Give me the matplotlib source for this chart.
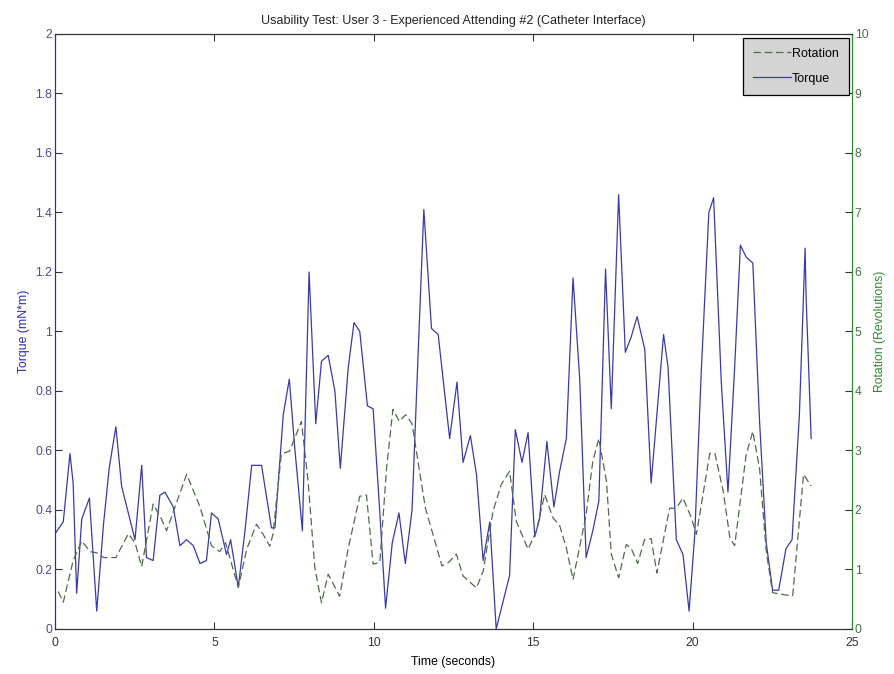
# Usability test chart: torque (left axis) and rotation (right axis) over time
from matplotlib import pyplot as plt
from matplotlib.ticker import FuncFormatter

plt.rcParams['font.family'] = ['Liberation Sans', 'DejaVu Sans']
plt.rcParams['font.size'] = 8.8

# torque trace (seconds, mN*m)
torque_t = [0.00, 0.26, 0.47, 0.57, 0.68, 0.84, 1.08, 1.31, 1.52, 1.70, 1.91,
            2.09, 2.30, 2.51, 2.72, 2.87, 3.08, 3.29, 3.45, 3.71, 3.92, 4.13,
            4.34, 4.55, 4.75, 4.91, 5.12, 5.38, 5.51, 5.75, 5.96, 6.17, 6.48,
            6.79, 6.90, 7.16, 7.35, 7.52, 7.76, 7.97, 8.18, 8.36, 8.57, 8.78,
            8.95, 9.20, 9.38, 9.56, 9.80, 9.98, 10.19, 10.37, 10.58, 10.79,
            10.99, 11.20, 11.40, 11.57, 11.81, 12.02, 12.38, 12.61, 12.80,
            13.03, 13.22, 13.43, 13.64, 13.84, 14.05, 14.26, 14.44, 14.65,
            14.84, 15.05, 15.20, 15.43, 15.65, 15.83, 16.04, 16.25, 16.46,
            16.66, 16.87, 17.06, 17.27, 17.45, 17.68, 17.89, 18.07, 18.26,
            18.50, 18.70, 19.09, 19.23, 19.49, 19.70, 19.89, 20.07, 20.27,
            20.51, 20.66, 20.90, 21.11, 21.32, 21.50, 21.68, 21.89, 22.10,
            22.31, 22.51, 22.70, 22.93, 23.12, 23.35, 23.53, 23.56, 23.72]
torque = [0.32, 0.36, 0.59, 0.49, 0.12, 0.37, 0.44, 0.06, 0.35, 0.54, 0.68,
          0.48, 0.39, 0.30, 0.55, 0.24, 0.23, 0.45, 0.46, 0.41, 0.28, 0.30,
          0.28, 0.22, 0.23, 0.39, 0.37, 0.25, 0.30, 0.14, 0.33, 0.55, 0.55,
          0.34, 0.34, 0.72, 0.84, 0.61, 0.33, 1.20, 0.69, 0.90, 0.92, 0.80,
          0.54, 0.88, 1.03, 1.00, 0.75, 0.74, 0.39, 0.07, 0.29, 0.39,
          0.22, 0.40, 0.95, 1.41, 1.01, 0.99, 0.64, 0.83, 0.56,
          0.65, 0.52, 0.23, 0.36, 0.00, 0.09, 0.18, 0.67, 0.56,
          0.66, 0.31, 0.37, 0.63, 0.41, 0.53, 0.64, 1.18, 0.84,
          0.24, 0.33, 0.43, 1.21, 0.74, 1.46, 0.93, 0.98, 1.05,
          0.94, 0.49, 0.99, 0.88, 0.30, 0.25, 0.06, 0.32, 0.86,
          1.40, 1.45, 0.83, 0.46, 0.88, 1.29, 1.25, 1.23, 0.70,
          0.29, 0.13, 0.13, 0.27, 0.30, 0.72, 1.28, 1.12, 0.64]

# rotation trace (seconds, revolutions)
rot_t = [0.10, 0.26, 0.57, 0.84, 1.10, 1.31, 1.52, 1.91, 2.30, 2.51, 2.72,
         3.08, 3.34, 3.50, 4.13, 4.55, 4.91, 5.17, 5.35, 5.75, 6.02, 6.32,
         6.53, 6.74, 6.84, 7.10, 7.36, 7.73, 7.94, 8.15, 8.36, 8.57, 8.93,
         9.20, 9.56, 9.77, 9.98, 10.19, 10.40, 10.60, 10.80, 11.00, 11.20,
         11.62, 12.14, 12.35, 12.59, 12.80, 13.22, 13.43, 13.74, 14.00,
         14.26, 14.47, 14.84, 15.10, 15.36, 15.62, 15.83, 16.04, 16.25,
         16.66, 16.87, 17.06, 17.30, 17.45, 17.68, 17.92, 18.07, 18.28,
         18.49, 18.70, 18.88, 19.28, 19.49, 19.70, 19.96, 20.12, 20.54,
         20.70, 20.96, 21.17, 21.32, 21.68, 21.89, 22.10, 22.31, 22.51,
         22.93, 23.14, 23.48, 23.72]
rotation = [0.63, 0.45, 1.15, 1.48, 1.30, 1.28, 1.20, 1.20, 1.60, 1.45, 1.05,
            2.10, 1.85, 1.65, 2.60, 2.05, 1.40, 1.30, 1.45, 0.70, 1.35, 1.76,
            1.59, 1.39, 1.60, 2.94, 2.99, 3.49, 2.48, 1.03, 0.44, 0.92, 0.55,
            1.36, 2.23, 2.25, 1.09, 1.12, 2.70, 3.69, 3.49, 3.60, 3.45,
            2.03, 1.06, 1.12, 1.26, 0.89, 0.69, 0.97, 1.98, 2.43,
            2.65, 1.81, 1.34, 1.65, 2.26, 1.87, 1.74, 1.36, 0.83,
            1.92, 2.82, 3.20, 2.48, 1.26, 0.86, 1.42, 1.36, 1.10,
            1.50, 1.52, 0.94, 2.03, 2.03, 2.20, 1.87, 1.59, 2.95,
            2.95, 2.32, 1.53, 1.40, 2.93, 3.32, 2.70, 1.31, 0.61,
            0.57, 0.56, 2.60, 2.40]

x_ticks = [0, 5, 10, 15, 20, 25]
left_ticks = [0, 0.2, 0.4, 0.6, 0.8, 1.0, 1.2, 1.4, 1.6, 1.8, 2.0]
right_ticks = list(range(0, 11))

blue = '#2b2bb0'
green = '#2e8b2e'

fig = plt.figure(figsize=(8.94, 6.74), dpi=100)
ax = fig.add_axes([0.0615, 0.0668, 0.8915, 0.8828])
ax2 = ax.twinx()

l_rot, = ax2.plot(rot_t, rotation, '--', color='#4f6b4a', lw=0.9, dashes=(6, 3))
l_tq, = ax.plot(torque_t, torque, '-', color='#3a3aa8', lw=0.9)

ax.set_xlim(0, 25)
ax.set_ylim(0, 2)
ax2.set_ylim(0, 10)
ax.set_xticks(x_ticks)
ax.set_yticks(left_ticks)
ax2.set_yticks(right_ticks)
fmt = FuncFormatter(lambda v, p: ('%g' % round(v, 1)))
ax.yaxis.set_major_formatter(fmt)

ax.tick_params(axis='x', direction='in', top=True, length=5, width=0.8,
               colors='#333333', pad=6)
ax.tick_params(axis='y', direction='in', length=5, width=0.8, color='#333333',
               labelcolor='#4a4a90', pad=2)
ax2.tick_params(axis='y', direction='in', length=5, width=0.8, color='#333333',
                labelcolor='#4a6a4a', pad=2)

for a in (ax, ax2):
    a.spines['left'].set_color(blue)
    a.spines['right'].set_color(green)
    a.spines['top'].set_color('#333333')
    a.spines['bottom'].set_color('#333333')

ax.set_xlabel('Time (seconds)', labelpad=5)
ax.set_ylabel('Torque (mN*m)', color=blue, labelpad=4)
ax2.set_ylabel('Rotation (Revolutions)', color=green, labelpad=4)
ax.set_title('Usability Test: User 3 - Experienced Attending #2 (Catheter Interface)',
             pad=7, color='#222222', fontsize=9.0)

leg = ax2.legend([l_rot, l_tq], ['Rotation', 'Torque'], loc='upper right',
                 bbox_to_anchor=(0.996, 0.994), frameon=True, fancybox=False,
                 facecolor='#d4d4d4', edgecolor='black', framealpha=1,
                 fontsize=9, handlelength=3.0, handletextpad=0.1,
                 borderpad=0.8, labelspacing=1.05, borderaxespad=0)
leg.get_frame().set_linewidth(0.9)

plt.savefig('out.png', dpi=100)
